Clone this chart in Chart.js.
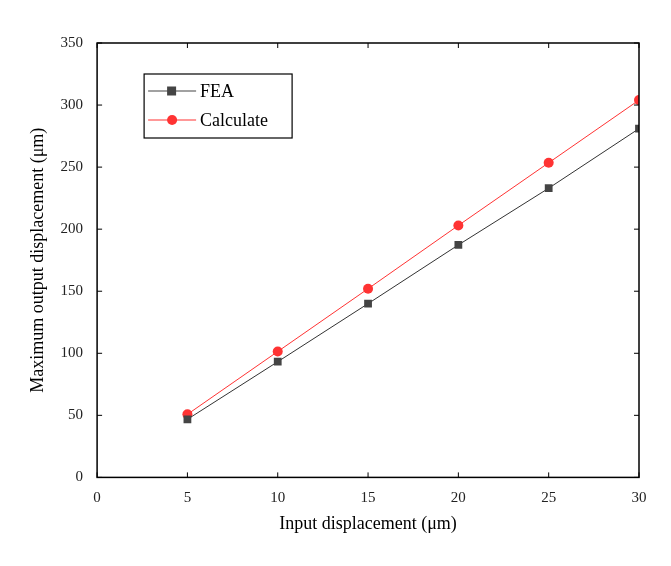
<!DOCTYPE html>
<html><head><meta charset="utf-8">
<script src="https://cdn.jsdelivr.net/npm/chart.js@4"></script>
<style>body{margin:0;background:#fff}canvas{display:block}</style>
</head><body><canvas id="c" width="671" height="566"></canvas>
<script>
const inputs = [5, 10, 15, 20, 25, 30];
const feaValues = [46.8, 93.2, 140, 187.3, 233, 281];
const calcValues = [50.8, 101.4, 152, 203, 253.5, 304];
const xTicks = [0, 5, 10, 15, 20, 25, 30];
const yTicks = [0, 50, 100, 150, 200, 250, 300, 350];
const FONT = "'Liberation Serif', 'DejaVu Serif', serif";

const frame = {
  id: 'frame',
  afterDraw(chart) {
    const {ctx, chartArea: a, scales: {x, y}} = chart;
    ctx.save();
    ctx.strokeStyle = '#000'; ctx.lineWidth = 1.5;
    ctx.strokeRect(a.left, a.top, a.right - a.left, a.bottom - a.top);
    ctx.lineWidth = 1;
    xTicks.forEach(v => { const px = x.getPixelForValue(v);
      ctx.beginPath(); ctx.moveTo(px, a.bottom); ctx.lineTo(px, a.bottom - 5);
      ctx.moveTo(px, a.top); ctx.lineTo(px, a.top + 5); ctx.stroke(); });
    yTicks.forEach(v => { const py = y.getPixelForValue(v);
      ctx.beginPath(); ctx.moveTo(a.left, py); ctx.lineTo(a.left + 5, py);
      ctx.moveTo(a.right, py); ctx.lineTo(a.right - 5, py); ctx.stroke(); });
    // legend
    const lx = a.left + 47, ly = a.top + 31, w = 148, h = 64;
    ctx.lineWidth = 1.2; ctx.strokeRect(lx, ly, w, h);
    const items = [['FEA', '#444', 'rect'], ['Calculate', '#ff3333', 'star']];
    ctx.font = '18px ' + FONT; ctx.textBaseline = 'middle'; ctx.fillStyle = '#000';
    items.forEach((it, i) => {
      const cy = ly + 17 + i * 29;
      ctx.strokeStyle = it[1]; ctx.beginPath(); ctx.moveTo(lx + 4, cy); ctx.lineTo(lx + 52, cy); ctx.stroke();
      ctx.fillStyle = it[1];
      if (it[2] === 'rect') ctx.fillRect(lx + 23, cy - 4.5, 9, 9);
      else { ctx.beginPath(); ctx.arc(lx + 28, cy, 5, 0, Math.PI * 2); ctx.fill(); }
      ctx.fillStyle = '#000'; ctx.fillText(it[0], lx + 56, cy + 1);
    });
    ctx.restore();
  }
};

new Chart(document.getElementById('c'), {
  type: 'line',
  data: { datasets: [
    { label: 'FEA', data: inputs.map((v, i) => ({x: v, y: feaValues[i]})),
      borderColor: '#333', backgroundColor: '#444', borderWidth: 1,
      pointStyle: 'rect', pointRadius: 5.5, pointBorderWidth: 0 },
    { label: 'Calculate', data: inputs.map((v, i) => ({x: v, y: calcValues[i]})),
      borderColor: '#ff3333', backgroundColor: '#ff3333', borderWidth: 1,
      pointStyle: 'circle', pointRadius: 5, pointBorderWidth: 0 }
  ]},
  options: {
    responsive: false, animation: false,
    layout: { padding: { left: 23, right: 32, top: 43, bottom: 27 } },
    plugins: { legend: { display: false }, tooltip: { enabled: false } },
    scales: {
      x: { type: 'linear', min: 0, max: 30,
        afterBuildTicks: s => { s.ticks = xTicks.map(v => ({value: v})); },
        grid: { display: false }, border: { display: false },
        ticks: { color: '#222', font: { family: FONT, size: 15 }, padding: 4 },
        title: { display: true, text: 'Input displacement (μm)', color: '#000', font: { family: FONT, size: 18 }, padding: { top: 2 } } },
      y: { min: 0, max: 350,
        afterBuildTicks: s => { s.ticks = yTicks.map(v => ({value: v})); },
        grid: { display: false }, border: { display: false },
        ticks: { color: '#222', font: { family: FONT, size: 15 }, padding: 6 },
        title: { display: true, text: 'Maximum output displacement (μm)', color: '#000', font: { family: FONT, size: 18 }, padding: { bottom: 6 } } }
    }
  },
  plugins: [frame]
});
</script></body></html>
